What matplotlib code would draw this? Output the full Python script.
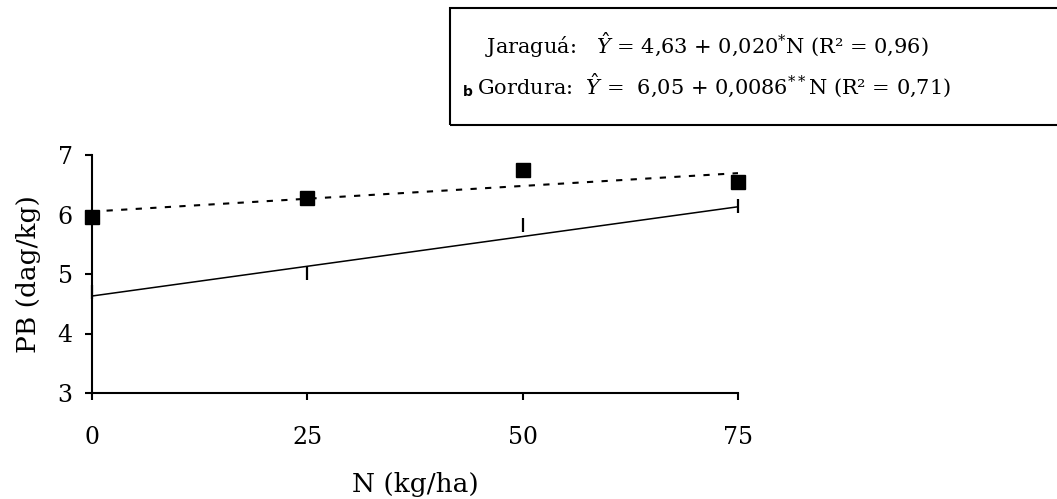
import matplotlib
matplotlib.use('Agg')
import matplotlib.pyplot as plt
from matplotlib.patches import Rectangle

# Data
n_levels = [0, 25, 50, 75]
jaragua_obs = [4.70, 5.02, 5.82, 6.14]
gordura_obs = [5.96, 6.27, 6.74, 6.55]

# Regression coefficients (intercept, slope)
jaragua_fit = (4.63, 0.020)
gordura_fit = (6.05, 0.0086)

x_ticks = [0, 25, 50, 75]
y_ticks = [3, 4, 5, 6, 7]

plt.rcParams['mathtext.fontset'] = 'dejavuserif'

fig = plt.figure(figsize=(10.57, 4.99), dpi=100)
ax = fig.add_axes([92 / 1057, 106 / 499, 646 / 1057, 238 / 499])

# Fitted lines
fit_x = [n_levels[0], n_levels[-1]]
ax.plot(fit_x, [jaragua_fit[0] + jaragua_fit[1] * x for x in fit_x],
        color='black', lw=1.1, solid_capstyle='butt')
ax.plot(fit_x, [gordura_fit[0] + gordura_fit[1] * x for x in fit_x],
        color='black', lw=1.5, linestyle=(0, (3, 4)))

# Observed points
ax.plot(n_levels, jaragua_obs, linestyle='none', marker='|', markersize=10,
        mew=1.6, color='black', clip_on=False)
ax.plot(n_levels, gordura_obs, linestyle='none', marker='s', markersize=9.5,
        color='black', clip_on=False)

ax.set_xlim(0, 75)
ax.set_ylim(3, 7)
ax.set_xticks(x_ticks)
ax.set_yticks(y_ticks)
for side in ['top', 'right']:
    ax.spines[side].set_visible(False)
for side in ['left', 'bottom']:
    ax.spines[side].set_linewidth(1.5)
ax.tick_params(axis='both', width=1.5, length=5, labelsize=17)
ax.tick_params(axis='x', pad=19)
ax.tick_params(axis='y', pad=9)
for lbl in ax.get_xticklabels() + ax.get_yticklabels():
    lbl.set_family('DejaVu Serif')

ax.set_xlabel('N (kg/ha)', family='DejaVu Serif', fontsize=19, labelpad=16)
ax.set_ylabel('PB (dag/kg)', family='DejaVu Serif', fontsize=19, labelpad=12)

# Equation box (only partly inside the figure)
box = Rectangle((450 / 1057, 1 - 125 / 499), 0.6, 117 / 499,
                transform=fig.transFigure, fill=False, lw=1.5, ec='black')
fig.patches.append(box)

eq_font = dict(family='DejaVu Serif', fontsize=15, va='baseline')
fig.text(485 / 1057, 1 - 54 / 499,
         r'Jaraguá:   $\hat{Y}$ = 4,63 + 0,020$^{*}$N (R² = 0,96)', **eq_font)
fig.text(463 / 1057, 1 - 96 / 499, 'b', family='DejaVu Sans', fontsize=10,
         weight='bold', va='baseline')
fig.text(477 / 1057, 1 - 95 / 499,
         r'Gordura:  $\hat{Y}$ =  6,05 + 0,0086$^{**}$N (R² = 0,71)', **eq_font)

fig.savefig('out.png', dpi=100)
